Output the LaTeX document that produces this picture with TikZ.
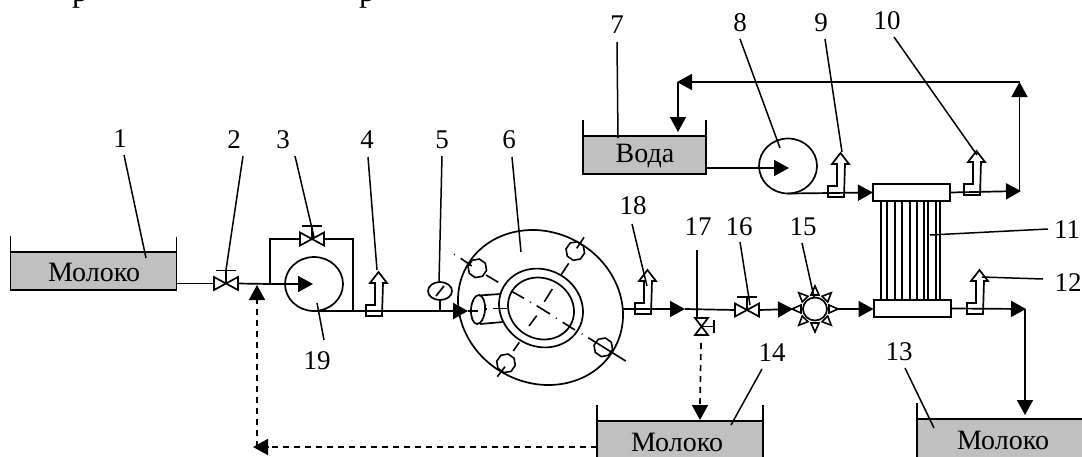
\documentclass[tikz,border=0pt]{standalone}
\usepackage{fontspec}
\setmainfont{Liberation Serif}
\usetikzlibrary{arrows.meta,shapes.geometric}
\definecolor{liquid}{HTML}{C0C0C0}
\newcommand{\lead}[6]{%
  \node[num] (n#1) at (#2) {#3};
  \coordinate (s#1) at (#4);
  \coordinate (e#1) at (#5);
  \draw[leader,#6] (s#1) -- (e#1);}
\tikzset{
  x=1pt,y=-1pt,
  num/.style={font=\fontsize{27}{30}\selectfont,inner sep=0pt},
  tanktext/.style={font=\fontsize{28}{32}\selectfont,inner sep=0pt},
  leader/.style={line width=1.5pt},
  pipe/.style={line width=1.7pt},
  main/.style={line width=2.3pt},
  flow/.style={-{Triangle[length=15pt,width=16pt]}},
  drain/.style={line width=1.7pt,dash pattern=on 6pt off 5pt},
  tank/.style={draw,fill=liquid,line width=1.7pt,inner sep=0pt,outer sep=0pt,rectangle},
  wall/.style={line width=1.6pt},
  round part/.style={draw,ellipse,line width=1.7pt,inner sep=0pt,outer sep=0pt},
  header/.style={draw,fill=white,line width=1.9pt,rectangle,inner sep=0pt,outer sep=0pt,minimum width=77pt,minimum height=17pt},
  tube/.style={line width=1.8pt},
  bolt/.style={draw,regular polygon,regular polygon sides=8,minimum size=19pt,inner sep=0pt,line width=1.6pt},
  axis/.style={line width=1.6pt},
  valve/.pic={
    \draw[line width=1.7pt,fill=white] (-12,-6.5) -- (12,6.5) -- (12,-6.5) -- (-12,6.5) -- cycle;
    \draw[line width=1.6pt] (0,0) -- (0,-13) (-10,-13) -- (10,-13);
    \coordinate (-w) at (-12,0);
    \coordinate (-e) at (12,0);
  },
  sensor/.pic={
    \draw[line width=1.7pt] (0,0) -- (16,0) -- (17,-33) -- (21,-33) -- (12.5,-44) -- (4,-33) -- (9,-33) -- (9,-11) -- (0,-11) -- cycle;
  },
  ray/.pic={
    \draw[line width=1.6pt,fill=white] (14,-4) -- (23,0) -- (14,4) -- cycle;
  }
}
\begin{document}
\begin{tikzpicture}
\useasboundingbox (0,0) rectangle (1082,456);
% cut-off letters at the upper edge
\node[font=\fontsize{32}{34}\selectfont,inner sep=0pt,anchor=base] (topa) at (80,1) {р};
\node[font=\fontsize{32}{34}\selectfont,inner sep=0pt,anchor=base] (topb) at (367,1) {р};

% tanks
\node[tank,minimum width=166pt,minimum height=38pt] (t1) at (93.5,271) {};
\node[tank,minimum width=123pt,minimum height=38pt] (t7) at (644.5,155) {};
\node[tank,minimum width=166pt,minimum height=60pt] (t14) at (680,451) {};
\node[tank,minimum width=185pt,minimum height=60pt] (t13) at (1009.5,449) {};
\draw[wall] (t1.north west) -- ++(0,-16) (t1.north east) -- ++(0,-15);
\draw[wall] (t7.north west) -- ++(0,-16) (t7.north east) -- ++(0,-16);
\draw[wall] (t14.north west) -- ++(0,-16) (t14.north east) -- ++(0,-16);
\draw[wall] (t13.north west) -- ++(0,-16);
\node[tanktext] (w1) at (94,272) {Молоко};
\node[tanktext] (w7) at (645,156) {Вода};
\node[tanktext] (w14) at (677,442) {Молоко};
\node[tanktext] (w13) at (1003,440) {Молоко};

% pumps
\node[round part,minimum width=58pt,minimum height=54pt] (p19) at (314,284) {};
\node[round part,minimum width=58pt,minimum height=55pt] (p8) at (788,166) {};

% valves and sensors
\pic (v2) at (226,283.5) {valve};
\pic (v3) at (312,239) {valve};
\pic (v16) at (747,310) {valve};
\coordinate (v17) at (701.5,326.5);
\draw[line width=1.7pt,fill=white] (695,318) -- (708,335) -- (695,335) -- (708,318) -- cycle;
\draw[line width=1.6pt] (v17) -- (714,326.5) (714,320) -- (714,333);
\pic at (366,316) {sensor};
\pic at (635,314) {sensor};
\pic at (967,314) {sensor};
\pic at (828,197) {sensor};
\pic at (964,195) {sensor};

% milk line
\coordinate (j1) at (270,284);
\coordinate (j2) at (353,311);
\draw[pipe] (t1.east |- v2-w) -- (v2-w);
\draw[pipe] (v2-e) -- (j1);
\draw[pipe,flow] (j1) -- (313,284);
\draw[pipe] (j1) |- (v3-w);
\draw[pipe] (v3-e) -| (j2);
\coordinate (a6) at (468,311);
\draw[main] (p19.south) -- (j2);
\draw[main,flow] (j2) -- (a6);
\draw[main] (a6) -- (478,311);

% gauge 5
\coordinate (g5) at (440,311);
\node[round part,minimum width=24pt,minimum height=18pt] (m5) at (440,291) {};
\draw[pipe] (m5.south) -- (g5);
\draw[pipe] (436,296) -- (444,286);

% apparatus 6
\node[round part,minimum width=169pt,minimum height=150.6pt,rotate=-28.5] (disc) at (540.5,307.5) {};
\node[round part,minimum width=86pt,minimum height=76.6pt,rotate=-28.5] (ringa) at (541,308) {};
\node[round part,minimum width=67.6pt,minimum height=60.2pt,rotate=-28.5] (ringb) at (541,308.5) {};
\node[round part,minimum width=14pt,minimum height=29pt,rotate=-4] (noz) at (478,309.5) {};
\coordinate (nt) at (500,294);
\coordinate (nb) at (503,322);
\draw[pipe] (479,295.5) -- (nt) (480,324) -- (nb);
\draw[axis] (493,308.5) -- (507,308.5) (486,309) -- (487,309);
\node[bolt,rotate=10] (b1) at (477.3,268.3) {};
\node[bolt,rotate=10] (b2) at (575.3,251) {};
\node[bolt,rotate=10] (b3) at (603.3,347.3) {};
\node[bolt,rotate=10] (b4) at (506,363.3) {};
\draw[axis]
  (454,254.3) -- (454.8,254.8)
  (460.7,258.3) -- (471.7,266)
  (486,275) -- (498.3,282.3)
  (511,291) -- (524,298.3)
  (530.3,302) -- (531.1,302.5)
  (536.7,305.7) -- (550,314)
  (556,318) -- (556.8,318.5)
  (562.7,322.3) -- (575,330)
  (581.7,333.7) -- (582.5,334.2)
  (588.3,337.7) -- (625.7,361);
\draw[axis]
  (497.3,376.7) -- (505,366.7)
  (513.3,351) -- (519.3,342.3)
  (529,326) -- (536.7,315.7)
  (544.3,301.7) -- (552.3,289)
  (561,275) -- (568.7,263.3)
  (576.7,248.3) -- (584,237.3);

% line to the cooler
\coordinate (a18) at (685,309);
\draw[pipe,flow] (623,309) -- (a18);
\draw[pipe] (a18) -- (v16-w);
\coordinate (a16) at (793,309);
\draw[pipe,flow] (v16-e) -- (a16);
\node[round part,minimum width=24pt,minimum height=23pt] (h15) at (815,309) {};
\foreach \ang in {0,45,...,315}
  \pic[rotate=\ang] at (815,309) {ray};
\coordinate (o15) at (838,309);
\draw[pipe,flow] (o15) -- (873.5,309);

% cooler 11
\foreach \xx in {881,886.7,895.3,902,910,916.7,924,927.7,936,940}
  \draw[tube] (\xx,201) -- (\xx,300);
\node[header] (h1) at (911.5,192.5) {};
\node[header] (h2) at (912.5,308.5) {};
\coordinate (c13) at (1026,309);
\draw[pipe,flow] (h2.east) -- (c13);
\coordinate (c13b) at (1025,309);
\draw[pipe,flow] (c13b) -- (1025,415);

% water loop
\draw[pipe,flow] (t7.east |- 0,168) -- (789,168);
\draw[pipe,flow] (p8.south) -- (h1.west);
\coordinate (c1) at (1021,191);
\draw[pipe,flow] (h1.east) -- (c1);
\coordinate (c2) at (1019.5,82);
\draw[pipe,flow] (1019.5,191) -- (c2);
\coordinate (c3) at (677,82);
\draw[pipe,flow] (c2) -- (c3);
\draw[pipe,flow] (678,82) -- (678,132);

% drain and recycle
\draw[drain] (701,343) -- (700,405);
\draw[pipe,flow] (700,405) -- (700,420);
\draw[drain] (t14.west |- 0,447) -- (266,447);
\draw[pipe,flow] (268,447) -- (253,447);
\draw[drain] (257,447) -- (257,300);
\draw[pipe,flow] (257,300) -- (257,285);

% labels and leaders
\lead{1}{120,139}{1}{124,155}{146,258}{}
\lead{2}{234,140}{2}{243,156}{226,270}{}
\lead{3}{283,140}{3}{295,156}{314,237}{}
\lead{4}{367,140}{4}{368,157}{377,270}{}
\lead{5}{442,140}{5}{442,156}{439,282}{}
\lead{6}{509,140}{6}{512,157}{521,252}{}
\lead{7}{617,25}{7}{617,42}{618,138}{}
\lead{8}{740,23}{8}{740,39}{780,148}{}
\lead{9}{821,23}{9}{825,39}{842,152}{}
\lead{10}{887,21}{10}{894,37}{977,155}{}
\lead{11}{1067,230}{11}{1048,229}{930,235}{}
\lead{12}{1068,283}{12}{1043,279}{982,277}{}
\lead{13}{899,352}{13}{905,368}{934,428}{}
\lead{14}{772,353}{14}{762,369}{731,425}{}
\lead{15}{803,227}{15}{802,243}{814,297}{}
\lead{16}{739,227}{16}{740,242}{750,305}{}
\lead{17}{698,227}{17}{697,250}{697,318}{}
\lead{18}{633,206}{18}{632,224}{647,286}{}
\lead{19}{317,361}{19}{324,340}{317,303}{}
\end{tikzpicture}
\end{document}
